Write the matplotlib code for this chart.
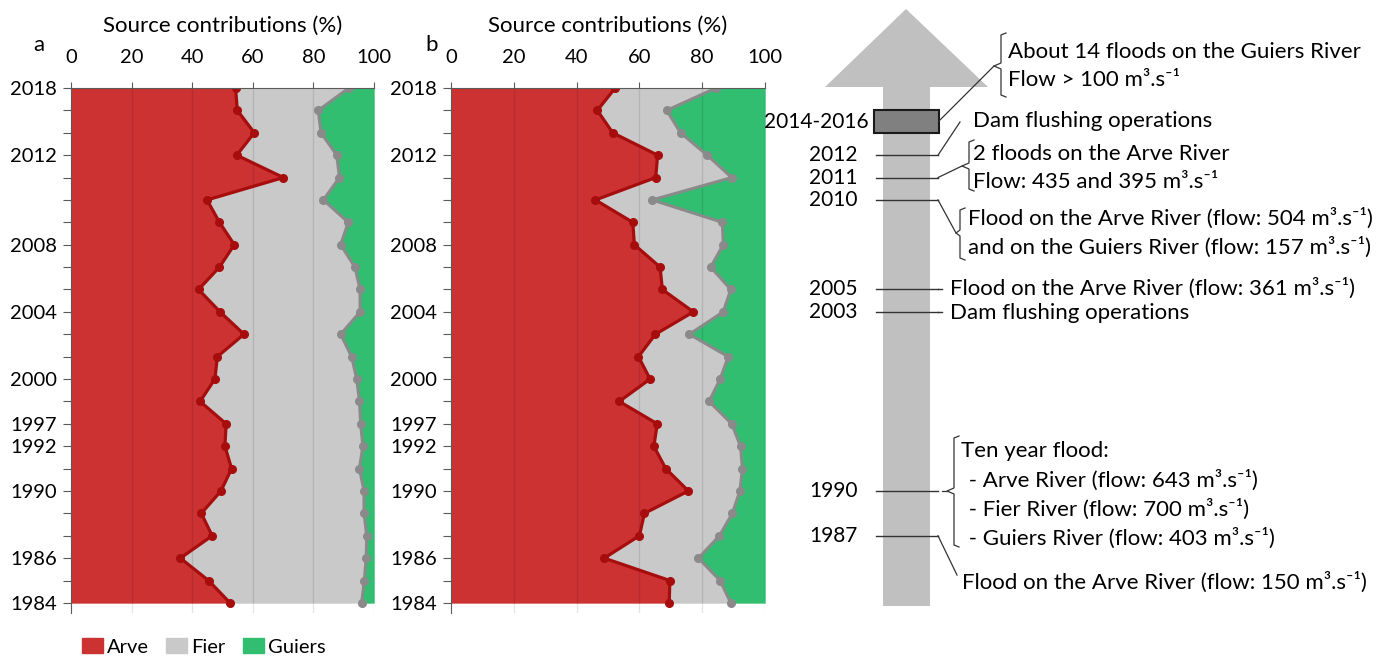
import matplotlib
matplotlib.use('Agg')
import matplotlib.pyplot as plt
from matplotlib.patches import Patch, Polygon, Rectangle
import numpy as np

plt.rcParams['font.family'] = ['Lato', 'DejaVu Sans']
plt.rcParams['font.size'] = 14.5

# Core samples, top (2018) to bottom (1984)
n_samples = 24
tick_pos = [0, 3, 7, 10, 13, 15, 16, 18, 21, 23]
tick_years = ['2018', '2012', '2008', '2004', '2000', '1997', '1992', '1990', '1986', '1984']

# Panel a source contributions (%)
arve_a = [54.3, 54.9, 60.5, 54.7, 70.1, 44.9, 49.0, 53.9, 49.0, 42.1, 49.2, 57.1,
          48.3, 47.5, 42.6, 51.2, 50.8, 53.0, 49.5, 43.0, 46.6, 36.1, 45.4, 52.5]
fier_a = [37.4, 26.7, 22.0, 33.0, 18.5, 38.4, 42.5, 35.1, 44.7, 53.3, 46.2, 31.9,
          44.3, 46.8, 52.6, 44.4, 45.5, 42.2, 47.2, 53.7, 51.0, 61.3, 51.4, 43.4]
guiers_a = [8.3, 18.4, 17.5, 12.3, 11.4, 16.7, 8.5, 11.0, 6.3, 4.6, 4.6, 11.0,
            7.4, 5.7, 4.8, 4.4, 3.7, 4.8, 3.3, 3.3, 2.4, 2.6, 3.2, 4.1]

# Panel b source contributions (%)
arve_b = [52.3, 46.6, 51.5, 65.8, 65.2, 46.0, 57.9, 58.4, 66.6, 67.3, 77.2, 65.1,
          59.7, 63.4, 53.6, 65.7, 64.6, 68.4, 75.6, 61.6, 60.0, 48.8, 69.7, 69.5]
fier_b = [32.1, 22.1, 21.6, 15.8, 24.2, 18.1, 28.5, 28.3, 16.1, 21.8, 9.5, 10.8,
          28.6, 22.3, 28.6, 23.7, 27.6, 24.4, 16.4, 28.0, 25.5, 30.0, 16.0, 19.6]
guiers_b = [15.6, 31.3, 26.9, 18.4, 10.6, 35.9, 13.6, 13.3, 17.3, 10.9, 13.3, 24.1,
            11.7, 14.3, 17.8, 10.6, 7.8, 7.2, 8.0, 10.4, 14.5, 21.2, 14.3, 10.9]

RED = '#cd3232'
RED_LINE = '#a80d0d'
GREY = '#c9c9c9'
GREY_LINE = '#8a8a8a'
GREEN = '#31be71'
AXIS = '#5a5a5a'
TXT = 16  # annotation text size

W, H = 1388, 662
fig = plt.figure(figsize=(W / 100, H / 100), dpi=100)


def px_box(left, top, right, bottom):
    return [left / W, 1 - bottom / H, (right - left) / W, (bottom - top) / H]


def draw_panel(ax, arve, fier, guiers, letter):
    pos = np.arange(len(arve))
    arve = np.array(arve)
    top = arve + np.array(fier)
    total = top + np.array(guiers)
    ax.fill_betweenx(pos, 0, arve, color=RED, lw=0.3, zorder=1)
    ax.fill_betweenx(pos, arve, top, color=GREY, lw=0.3, zorder=1)
    ax.fill_betweenx(pos, top, total, color=GREEN, lw=0.3, zorder=1)
    for v in (20, 40, 60, 80, 100):
        ax.axvline(v, color='k', alpha=0.1, lw=1, zorder=2)
    ax.plot(arve, pos, color=RED_LINE, lw=2.3, marker='o', ms=5.5, zorder=4)
    ax.plot(top, pos, color=GREY_LINE, lw=2.2, marker='o', ms=5.5, zorder=3)

    ax.set_xlim(0, 100)
    ax.set_ylim(len(arve) - 1 + 0.45, 0)
    ax.xaxis.tick_top()
    ax.set_xticks([0, 20, 40, 60, 80, 100])
    ax.xaxis.set_label_position('top')
    ax.set_xlabel('Source contributions (%)', labelpad=12, fontsize=TXT)
    labels = [''] * len(arve)
    for p, y in zip(tick_pos, tick_years):
        labels[p] = y
    ax.set_yticks(pos, labels)
    ax.tick_params(axis='x', length=4, pad=12, color=AXIS)
    ax.tick_params(axis='y', length=6, pad=4, color=AXIS)
    for s in ('right', 'bottom'):
        ax.spines[s].set_visible(False)
    for s in ('top', 'left'):
        ax.spines[s].set_color(AXIS)
        ax.spines[s].set_zorder(5)
    ax.text(-0.125 if letter == 'a' else -0.083, 1.082, letter, fontsize=TXT,
            transform=ax.transAxes, ha='left', va='center')


ax_a = fig.add_axes(px_box(71, 88, 374, 613))
ax_b = fig.add_axes(px_box(451, 88, 765, 613))
draw_panel(ax_a, arve_a, fier_a, guiers_a, 'a')
draw_panel(ax_b, arve_b, fier_b, guiers_b, 'b')

fig.legend(handles=[Patch(color=RED, label='Arve'), Patch(color=GREY, label='Fier'),
                    Patch(color=GREEN, label='Guiers')],
           loc='center left', bbox_to_anchor=(82 / W, 1 - 647 / H), ncol=3, frameon=False,
           handlelength=1.05, handleheight=0.75, handletextpad=0.2, columnspacing=0.85,
           borderaxespad=0, borderpad=0, fontsize=14.5)

# Timeline (pixel layout, events placed on the sample scale of the panels)
ax_t = fig.add_axes([0, 0, 1, 1])
ax_t.set_xlim(0, W)
ax_t.set_ylim(H, 0)
ax_t.axis('off')


def sample_y(idx):
    return H - ax_a.transData.transform((0, idx))[1]


ax_t.add_patch(Polygon([(906, 9), (988, 87), (930, 87), (930, 606), (883, 606),
                        (883, 87), (825, 87)], closed=True, color='#c0c0c0', lw=0))

flood_period = '2014-2016'
flood_span = (1, 2)
y0, y1 = sample_y(flood_span[0]), sample_y(flood_span[1])
ax_t.add_patch(Rectangle((874, y0), 65, y1 - y0, facecolor='#808080', edgecolor='#1a1a1a', lw=1.5))
ax_t.text(869, (y0 + y1) / 2, flood_period, ha='right', va='center', fontsize=15)

event_years = ['2012', '2011', '2010', '2005', '2003', '1990', '1987']
event_pos = [3, 4, 5, 9, 10, 18, 20]

LC = '#333333'
for yr, p in zip(event_years, event_pos):
    y = sample_y(p)
    ax_t.text(858, y, yr, ha='right', va='center', fontsize=15)
    ax_t.plot([876, 938], [y, y], color=LC, lw=1)


def bracket(x, ytop, ybot, ytip, tipx):
    ax_t.plot([x + 5, x, x, tipx, x, x, x + 5],
              [ytop, ytop + 2, ytip - 3, ytip, ytip + 3, ybot - 2, ybot], color=LC, lw=0.9)


def note(x, y, s):
    ax_t.text(x, y, s, va='center', fontsize=TXT)


# 2014-2016 floods
bracket(1001, 33, 97, 66, 994)
ax_t.plot([939, 994], [121, 66], color=LC, lw=0.9)
note(1008, 52, 'About 14 floods on the Guiers River')
note(1008, 80, 'Flow > 100 m³.s⁻¹')

# 2012
y = sample_y(3)
ax_t.plot([938, 960], [y, 122], color=LC, lw=0.9)
note(973, 121, 'Dam flushing operations')

# 2011
y = sample_y(4)
bracket(969, 140, 191, 166, 962)
ax_t.plot([938, 962], [y, 166], color=LC, lw=0.9)
note(973, 154, '2 floods on the Arve River')
note(973, 182, 'Flow: 435 and 395 m³.s⁻¹')

# 2010
y = sample_y(5)
bracket(960, 208, 260, 233, 956)
ax_t.plot([938, 956], [y, 233], color=LC, lw=0.9)
note(968, 218, 'Flood on the Arve River (flow: 504 m³.s⁻¹)')
note(968, 247, 'and on the Guiers River (flow: 157 m³.s⁻¹)')

# 2005 / 2003
ax_t.plot([938, 942], [sample_y(9)] * 2, color=LC, lw=1)
note(950, sample_y(9) - 1, 'Flood on the Arve River (flow: 361 m³.s⁻¹)')
ax_t.plot([938, 942], [sample_y(10)] * 2, color=LC, lw=1)
note(950, sample_y(10) + 1, 'Dam flushing operations')

# 1990
y = sample_y(18)
bracket(954, 436, 547, y, 947)
ax_t.plot([942, 947], [y, y], color=LC, lw=0.9)
note(961, 451, 'Ten year flood:')
note(963, 480, ' - Arve River (flow: 643 m³.s⁻¹)')
note(963, 509, ' - Fier River (flow: 700 m³.s⁻¹)')
note(963, 538, ' - Guiers River (flow: 403 m³.s⁻¹)')

# 1987
y = sample_y(20)
ax_t.plot([938, 957], [y, 575], color=LC, lw=0.9)
note(962, 582, 'Flood on the Arve River (flow: 150 m³.s⁻¹)')

fig.savefig('out.png', dpi=100)
